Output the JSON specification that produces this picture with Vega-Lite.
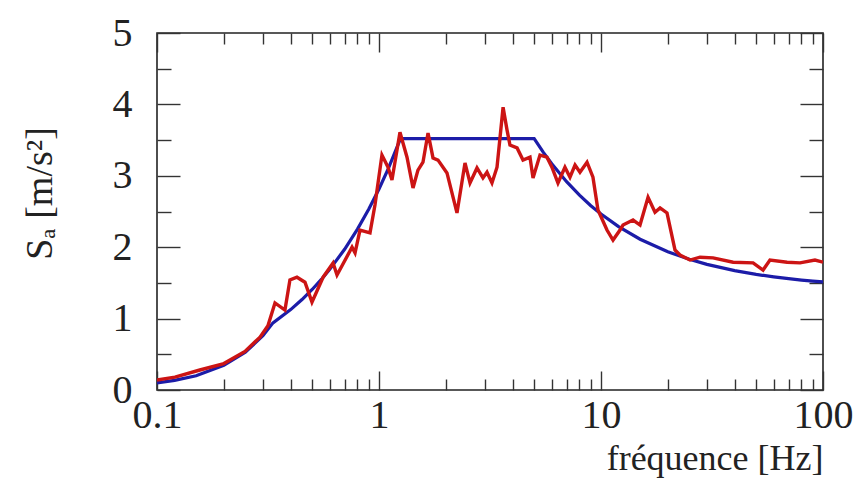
{
  "$schema": "https://vega.github.io/schema/vega-lite/v6.json",
  "width": 666,
  "height": 357,
  "autosize": "none",
  "padding": {"left": 157, "top": 33, "right": 35, "bottom": 106},
  "background": "white",
  "config": {
    "view": {"stroke": "#222", "strokeWidth": 1.6},
    "axis": {
      "domain": false, "grid": false,
      "labelFont": "Liberation Serif", "titleFont": "Liberation Serif",
      "labelColor": "#222", "titleColor": "#222", "tickColor": "#333",
      "tickWidth": 1.4, "titleFontWeight": "normal", "labelOverlap": false, "labelFlush": false
    }
  },
  "datasets": {
    "spectre": [
      {"f": 0.1, "sa": 0.1}, {"f": 0.12, "sa": 0.135}, {"f": 0.15, "sa": 0.2}, {"f": 0.2, "sa": 0.345},
      {"f": 0.25, "sa": 0.53}, {"f": 0.3, "sa": 0.76}, {"f": 0.333, "sa": 0.94}, {"f": 0.4, "sa": 1.126},
      {"f": 0.45, "sa": 1.267}, {"f": 0.5, "sa": 1.408}, {"f": 0.55, "sa": 1.549}, {"f": 0.6, "sa": 1.69},
      {"f": 0.7, "sa": 1.971}, {"f": 0.8, "sa": 2.253}, {"f": 0.9, "sa": 2.534}, {"f": 1.0, "sa": 2.816},
      {"f": 1.1, "sa": 3.098}, {"f": 1.25, "sa": 3.52}, {"f": 5, "sa": 3.52}, {"f": 5.5, "sa": 3.328},
      {"f": 6, "sa": 3.168}, {"f": 7, "sa": 2.917}, {"f": 8, "sa": 2.728}, {"f": 9, "sa": 2.581},
      {"f": 10, "sa": 2.464}, {"f": 12, "sa": 2.288}, {"f": 15, "sa": 2.112}, {"f": 20, "sa": 1.936},
      {"f": 25, "sa": 1.83}, {"f": 30, "sa": 1.76}, {"f": 40, "sa": 1.672}, {"f": 50, "sa": 1.619},
      {"f": 60, "sa": 1.584}, {"f": 70, "sa": 1.559}, {"f": 80, "sa": 1.54}, {"f": 90, "sa": 1.525},
      {"f": 100, "sa": 1.514}
    ],
    "mesure": [
      {"f": 0.1, "sa": 0.14}, {"f": 0.1205, "sa": 0.18}, {"f": 0.156, "sa": 0.28}, {"f": 0.2, "sa": 0.37},
      {"f": 0.249, "sa": 0.54}, {"f": 0.291, "sa": 0.74}, {"f": 0.316, "sa": 0.9}, {"f": 0.34, "sa": 1.22},
      {"f": 0.377, "sa": 1.12}, {"f": 0.397, "sa": 1.54}, {"f": 0.427, "sa": 1.58}, {"f": 0.464, "sa": 1.51},
      {"f": 0.499, "sa": 1.23}, {"f": 0.56, "sa": 1.58}, {"f": 0.621, "sa": 1.78}, {"f": 0.647, "sa": 1.61},
      {"f": 0.756, "sa": 2.0}, {"f": 0.78, "sa": 1.92}, {"f": 0.821, "sa": 2.24}, {"f": 0.911, "sa": 2.2},
      {"f": 0.959, "sa": 2.59}, {"f": 1.031, "sa": 3.29}, {"f": 1.098, "sa": 3.12}, {"f": 1.144, "sa": 2.94},
      {"f": 1.243, "sa": 3.61}, {"f": 1.337, "sa": 3.26}, {"f": 1.423, "sa": 2.83}, {"f": 1.498, "sa": 3.08},
      {"f": 1.578, "sa": 3.19}, {"f": 1.663, "sa": 3.6}, {"f": 1.751, "sa": 3.25}, {"f": 1.844, "sa": 3.22},
      {"f": 2.024, "sa": 3.04}, {"f": 2.245, "sa": 2.48}, {"f": 2.44, "sa": 3.18}, {"f": 2.57, "sa": 2.9},
      {"f": 2.763, "sa": 3.11}, {"f": 2.94, "sa": 2.97}, {"f": 3.065, "sa": 3.05}, {"f": 3.228, "sa": 2.9},
      {"f": 3.401, "sa": 3.12}, {"f": 3.622, "sa": 3.96}, {"f": 3.774, "sa": 3.64}, {"f": 3.89, "sa": 3.43},
      {"f": 4.187, "sa": 3.39}, {"f": 4.453, "sa": 3.22}, {"f": 4.788, "sa": 3.26}, {"f": 4.941, "sa": 2.97},
      {"f": 5.31, "sa": 3.29}, {"f": 5.71, "sa": 3.26}, {"f": 6.01, "sa": 3.12}, {"f": 6.4, "sa": 2.9},
      {"f": 6.88, "sa": 3.12}, {"f": 7.25, "sa": 2.98}, {"f": 7.64, "sa": 3.15}, {"f": 8.04, "sa": 3.05},
      {"f": 8.65, "sa": 3.19}, {"f": 9.2, "sa": 2.98}, {"f": 9.69, "sa": 2.52}, {"f": 10.64, "sa": 2.24},
      {"f": 11.33, "sa": 2.1}, {"f": 12.18, "sa": 2.24}, {"f": 12.56, "sa": 2.31}, {"f": 13.94, "sa": 2.38},
      {"f": 14.99, "sa": 2.31}, {"f": 16.29, "sa": 2.7}, {"f": 17.51, "sa": 2.49}, {"f": 18.45, "sa": 2.55},
      {"f": 19.83, "sa": 2.48}, {"f": 21.55, "sa": 1.96}, {"f": 22.69, "sa": 1.89}, {"f": 25.18, "sa": 1.82},
      {"f": 27.93, "sa": 1.86}, {"f": 31.97, "sa": 1.85}, {"f": 39.36, "sa": 1.79}, {"f": 48.42, "sa": 1.78},
      {"f": 53.7, "sa": 1.68}, {"f": 57.7, "sa": 1.82}, {"f": 68.9, "sa": 1.79}, {"f": 78.8, "sa": 1.78},
      {"f": 92.0, "sa": 1.82}, {"f": 100, "sa": 1.79}
    ]
  },
  "layer": [
    {
      "data": {"name": "spectre"},
      "mark": {"type": "line", "color": "#1c1ca8", "strokeWidth": 3.2, "clip": true},
      "encoding": {
        "x": {"field": "f", "type": "quantitative",
          "scale": {"type": "log", "domain": [0.1, 100], "nice": false},
          "axis": {"orient": "bottom", "values": [0.1, 1, 10, 100], "format": "~g", "tickSize": -19,
            "labelFontSize": 40, "labelPadding": 24, "title": "fréquence [Hz]", "titleFontSize": 36,
            "titleAnchor": "end", "titlePadding": 6}},
        "y": {"field": "sa", "type": "quantitative",
          "scale": {"domain": [0, 5], "nice": false},
          "axis": {"orient": "left", "values": [0, 1, 2, 3, 4, 5], "tickSize": -23,
            "labelFontSize": 40, "labelPadding": 48, "title": "Sₐ [m/s²]", "titleFontSize": 38,
            "titlePadding": 53, "titleY": 160}}
      }
    },
    {
      "data": {"name": "mesure"},
      "mark": {"type": "line", "color": "#cc1414", "strokeWidth": 3.4, "clip": true},
      "encoding": {
        "x": {"field": "f", "type": "quantitative",
          "scale": {"type": "log", "domain": [0.1, 100], "nice": false},
          "axis": {"orient": "bottom", "values": [0.2, 0.3, 0.4, 0.5, 0.6, 0.7, 0.8, 0.9, 2, 3, 4, 5, 6, 7, 8, 9, 20, 30, 40, 50, 60, 70, 80, 90],
            "tickSize": -11, "labels": false, "title": null}},
        "y": {"field": "sa", "type": "quantitative",
          "scale": {"domain": [0, 5], "nice": false},
          "axis": {"orient": "left", "values": [0.5, 1.5, 2.5, 3.5, 4.5], "tickSize": -14, "labels": false, "title": null}}
      }
    },
    {
      "data": {"name": "mesure"},
      "mark": {"type": "line", "opacity": 0},
      "encoding": {
        "x": {"field": "f", "type": "quantitative",
          "scale": {"type": "log", "domain": [0.1, 100], "nice": false},
          "axis": {"orient": "top", "values": [0.1, 1, 10, 100], "tickSize": -19, "labels": false, "title": null}},
        "y": {"field": "sa", "type": "quantitative",
          "scale": {"domain": [0, 5], "nice": false},
          "axis": {"orient": "right", "values": [0, 1, 2, 3, 4, 5], "tickSize": -23, "labels": false, "title": null}}
      }
    },
    {
      "data": {"name": "mesure"},
      "mark": {"type": "line", "opacity": 0},
      "encoding": {
        "x": {"field": "f", "type": "quantitative",
          "scale": {"type": "log", "domain": [0.1, 100], "nice": false},
          "axis": {"orient": "top", "values": [0.2, 0.3, 0.4, 0.5, 0.6, 0.7, 0.8, 0.9, 2, 3, 4, 5, 6, 7, 8, 9, 20, 30, 40, 50, 60, 70, 80, 90],
            "tickSize": -11, "labels": false, "title": null}},
        "y": {"field": "sa", "type": "quantitative",
          "scale": {"domain": [0, 5], "nice": false},
          "axis": {"orient": "right", "values": [0.5, 1.5, 2.5, 3.5, 4.5], "tickSize": -14, "labels": false, "title": null}}
      }
    }
  ],
  "resolve": {"axis": {"x": "independent", "y": "independent"}}
}
